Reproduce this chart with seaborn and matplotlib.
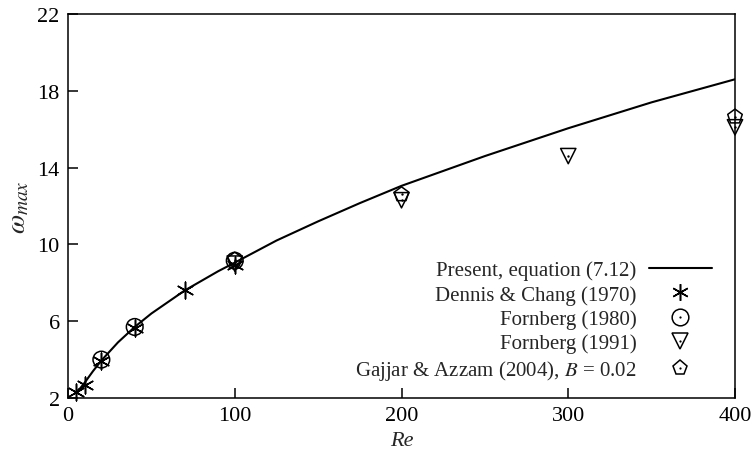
import matplotlib
matplotlib.use("Agg")
import matplotlib.pyplot as plt
from matplotlib.lines import Line2D
import pandas as pd
import seaborn as sns

# Present solution, equation (7.12)
curve_re = [5, 10, 15, 20, 30, 40, 50, 60, 70, 80, 90, 100,
            125, 150, 175, 200, 250, 300, 350, 400]
curve_w = [2.25, 2.8, 3.4, 3.95, 4.9, 5.7, 6.4, 7.0, 7.6, 8.1, 8.6, 9.05,
           10.2, 11.2, 12.15, 13.05, 14.6, 16.05, 17.4, 18.6]

# Published results
dennis_re = [5, 10, 20, 40, 70, 100]
dennis_w = [2.3, 2.7, 3.95, 5.65, 7.6, 8.95]

fornberg80_re = [20, 40, 100]
fornberg80_w = [4.0, 5.7, 9.15]

fornberg91_re = [100, 200, 300, 400]
fornberg91_w = [9.0, 12.3, 14.6, 16.1]

gajjar_re = [100, 200, 400]
gajjar_w = [9.2, 12.6, 16.65]

x_ticks = [0, 100, 200, 300, 400]
y_ticks = [2, 6, 10, 14, 18, 22]

labels = ["Present, equation (7.12)", "Dennis & Chang (1970)", "Fornberg (1980)",
          "Fornberg (1991)", r"Gajjar & Azzam (2004), $B$ = 0.02"]

sns.set_theme(style="ticks")
plt.rcParams["font.family"] = ["Liberation Serif", "DejaVu Serif"]
plt.rcParams["mathtext.fontset"] = "stix"

fig = plt.figure(figsize=(7.54, 4.64), dpi=100)
ax = fig.add_axes([68 / 754, 1 - 399 / 464, (735 - 68) / 754, (399 - 15) / 464])

curve = pd.DataFrame({"Re": curve_re, "w": curve_w})
sns.lineplot(data=curve, x="Re", y="w", ax=ax, color="black", lw=1.5, zorder=2)

asterisk = (6, 2, 0)
sets = [
    (dennis_re, dennis_w, asterisk, 12, False),
    (fornberg80_re, fornberg80_w, "o", 12, True),
    (fornberg91_re, fornberg91_w, "v", 11, True),
    (gajjar_re, gajjar_w, "p", 11, True),
]
for re_vals, w_vals, mk, ms, dot in sets:
    df = pd.DataFrame({"Re": re_vals, "w": w_vals})
    if mk == asterisk:
        sns.scatterplot(data=df, x="Re", y="w", ax=ax, marker=mk, s=ms ** 2,
                        color="black", edgecolor="black", linewidth=1.1,
                        zorder=3, clip_on=False)
    else:
        sns.scatterplot(data=df, x="Re", y="w", ax=ax, marker=mk, s=ms ** 2,
                        facecolor="none", edgecolor="black", linewidth=1.1,
                        zorder=3, clip_on=False)
    if dot:
        sns.scatterplot(data=df, x="Re", y="w", ax=ax, marker="o", s=3,
                        color="black", edgecolor="black", linewidth=0,
                        zorder=4, clip_on=False)

ax.set_xlim(0, 400)
ax.set_ylim(2, 22)
ax.set_xticks(x_ticks)
ax.set_yticks(y_ticks)
ax.set_xticklabels([str(v) for v in x_ticks])
ax.set_yticklabels([str(v) for v in y_ticks])
ax.tick_params(direction="in", length=7, width=1.1, labelsize=16, colors="black",
               top=False, right=False, pad=6)
for sp in ax.spines.values():
    sp.set_visible(True)
    sp.set_linewidth(1.1)
    sp.set_color("black")

ax.set_xlabel("Re", fontsize=16, style="italic", labelpad=4)
ax.set_ylabel(r"$\omega_{max}$", fontsize=20, labelpad=4)


def dotted(mk, ms):
    return (Line2D([], [], ls="none", marker=mk, ms=ms, mfc="none", mec="black", mew=1.1),
            Line2D([], [], ls="none", marker="o", ms=1.6, mfc="black", mec="black", mew=0))


handles = [
    Line2D([], [], color="black", lw=1.5),
    Line2D([], [], ls="none", marker=asterisk, ms=12, mec="black", mew=1.1),
    dotted("o", 12),
    dotted("v", 11),
    dotted("p", 11),
]
leg = ax.legend(handles, labels, loc="lower right", bbox_to_anchor=(0.987, 0.004),
                frameon=False, markerfirst=False, fontsize=15, handlelength=3.0,
                handletextpad=0.6, labelspacing=0.22, borderpad=0.2)

fig.savefig("out.png", dpi=100)
